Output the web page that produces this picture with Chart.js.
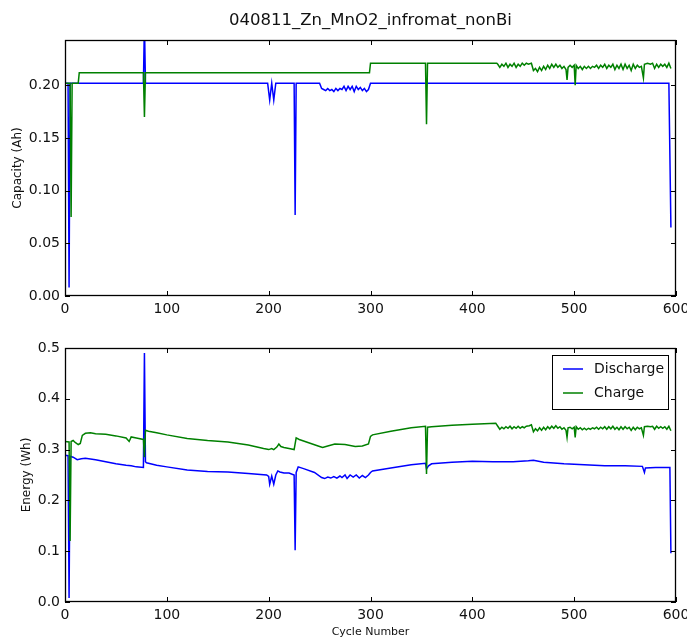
<!DOCTYPE html>
<html>
<head>
<meta charset="utf-8">
<script src="https://cdn.jsdelivr.net/npm/chart.js@4.4.1/dist/chart.umd.min.js"></script>
<style>
  html, body { margin: 0; padding: 0; background: #fff; }
  .panel { position: absolute; left: 0; width: 687px; }
</style>
</head>
<body>
<div class="panel" style="top:0;height:320px"><canvas id="capacityChart" width="687" height="320"></canvas></div>
<div class="panel" style="top:320px;height:319px"><canvas id="energyChart" width="687" height="319"></canvas></div>
<script>
const chartTitle = '040811_Zn_MnO2_infromat_nonBi';
const cycleTicks = [0, 100, 200, 300, 400, 500, 600];
const capacityTicks = [0, 0.05, 0.10, 0.15, 0.20];
const energyTicks = [0, 0.1, 0.2, 0.3, 0.4, 0.5];

// [cycle, Ah]
const dischargeCapacity = [
    [0, 0.202], [3, 0.202], [4, 0.008], [5, 0.202], [77, 0.202], [78, 0.26], [79, 0.202],
    [199, 0.202], [201, 0.186], [203, 0.202], [205, 0.186], [207, 0.202], [225, 0.202],
    [226, 0.077], [227, 0.202], [250, 0.202], [252, 0.197], [254, 0.196], [256, 0.195],
    [258, 0.197], [260, 0.195], [262, 0.196], [264, 0.194], [266, 0.197], [268, 0.195],
    [270, 0.197], [272, 0.196], [274, 0.199], [276, 0.195], [278, 0.199], [280, 0.196],
    [282, 0.199], [284, 0.194], [286, 0.199], [288, 0.196], [290, 0.198], [292, 0.195],
    [294, 0.197], [296, 0.194], [298, 0.196], [300, 0.202], [593, 0.202], [595, 0.065]
];

const chargeCapacity = [
    [0, 0.202], [5, 0.202], [6, 0.075], [7, 0.202], [13, 0.202], [14, 0.212], [77, 0.212],
    [78, 0.170], [79, 0.212], [299, 0.212], [300, 0.221], [354, 0.221], [355, 0.163],
    [356, 0.221], [424, 0.221], [425, 0.220], [427, 0.217], [429, 0.220], [431, 0.218],
    [433, 0.221], [435, 0.217], [437, 0.220], [439, 0.218], [441, 0.221], [443, 0.217],
    [445, 0.220], [447, 0.218], [449, 0.221], [451, 0.219], [453, 0.221], [455, 0.220],
    [458, 0.221], [460, 0.214], [462, 0.216], [464, 0.213], [466, 0.217], [468, 0.214],
    [470, 0.218], [472, 0.215], [474, 0.219], [476, 0.216], [478, 0.220], [480, 0.217],
    [482, 0.220], [484, 0.217], [486, 0.219], [488, 0.216], [490, 0.218], [492, 0.215],
    [493, 0.205], [494, 0.217], [496, 0.219], [498, 0.217], [500, 0.219], [501, 0.200],
    [502, 0.219], [504, 0.216], [506, 0.218], [508, 0.215], [510, 0.218], [512, 0.216],
    [514, 0.218], [516, 0.216], [518, 0.218], [520, 0.217], [522, 0.219], [524, 0.216],
    [526, 0.219], [528, 0.217], [530, 0.220], [532, 0.216], [534, 0.219], [536, 0.217],
    [538, 0.220], [540, 0.215], [542, 0.219], [544, 0.216], [546, 0.220], [548, 0.215],
    [550, 0.220], [552, 0.216], [554, 0.219], [556, 0.214], [558, 0.220], [560, 0.216],
    [562, 0.219], [564, 0.217], [566, 0.218], [568, 0.207], [569, 0.220], [572, 0.221],
    [575, 0.220], [577, 0.221], [579, 0.216], [581, 0.220], [583, 0.217], [585, 0.220],
    [587, 0.218], [589, 0.220], [591, 0.217], [593, 0.221], [595, 0.216]
];

// [cycle, Wh]
const dischargeEnergy = [
    [0, 0.289], [3, 0.288], [4, 0.008], [5, 0.287], [8, 0.285], [12, 0.280], [16, 0.282],
    [20, 0.283], [30, 0.280], [40, 0.276], [50, 0.272], [60, 0.269], [65, 0.268], [70, 0.266],
    [77, 0.265], [78, 0.49], [79, 0.276], [80, 0.274], [90, 0.269], [100, 0.266], [120, 0.260],
    [140, 0.257], [160, 0.256], [180, 0.253], [198, 0.250], [200, 0.247], [201, 0.232],
    [203, 0.248], [205, 0.232], [207, 0.250], [209, 0.258], [211, 0.256], [215, 0.254],
    [220, 0.254], [225, 0.250], [226, 0.102], [227, 0.255], [229, 0.266], [235, 0.262],
    [245, 0.255], [252, 0.245], [255, 0.243], [258, 0.246], [261, 0.244], [264, 0.247],
    [267, 0.244], [270, 0.248], [272, 0.245], [275, 0.250], [277, 0.243], [280, 0.250],
    [283, 0.246], [286, 0.250], [289, 0.244], [292, 0.249], [295, 0.245], [298, 0.250],
    [300, 0.255], [302, 0.258], [320, 0.264], [340, 0.270], [354, 0.273], [355, 0.262],
    [357, 0.268], [360, 0.272], [380, 0.275], [400, 0.277], [420, 0.276], [440, 0.276],
    [455, 0.278], [460, 0.279], [470, 0.275], [490, 0.272], [510, 0.270], [530, 0.268],
    [550, 0.268], [567, 0.267], [569, 0.255], [570, 0.264], [580, 0.265], [594, 0.265],
    [595, 0.096]
];

const chargeEnergy = [
    [0, 0.316], [4, 0.315], [5, 0.120], [6, 0.316], [8, 0.318], [10, 0.314], [13, 0.310],
    [15, 0.312], [17, 0.328], [20, 0.332], [25, 0.333], [30, 0.331], [40, 0.330], [50, 0.327],
    [60, 0.323], [63, 0.316], [65, 0.325], [70, 0.323], [77, 0.320], [78, 0.285], [79, 0.338],
    [82, 0.336], [90, 0.333], [100, 0.329], [120, 0.322], [140, 0.318], [160, 0.315],
    [180, 0.309], [195, 0.302], [200, 0.300], [203, 0.302], [205, 0.300], [208, 0.305],
    [210, 0.311], [212, 0.306], [215, 0.304], [220, 0.302], [225, 0.300], [227, 0.323],
    [230, 0.320], [240, 0.313], [250, 0.306], [253, 0.304], [258, 0.307], [265, 0.311],
    [275, 0.310], [285, 0.306], [292, 0.307], [298, 0.311], [300, 0.326], [302, 0.329],
    [320, 0.336], [340, 0.343], [354, 0.346], [355, 0.252], [356, 0.344], [360, 0.345],
    [380, 0.348], [400, 0.350], [423, 0.352], [425, 0.346], [427, 0.340], [429, 0.344],
    [431, 0.341], [433, 0.345], [435, 0.342], [437, 0.346], [439, 0.341], [441, 0.345],
    [443, 0.342], [445, 0.346], [447, 0.342], [449, 0.345], [451, 0.343], [453, 0.346],
    [456, 0.347], [458, 0.349], [460, 0.335], [462, 0.341], [464, 0.337], [466, 0.343],
    [468, 0.338], [470, 0.344], [472, 0.339], [474, 0.345], [476, 0.341], [478, 0.346],
    [480, 0.342], [482, 0.347], [484, 0.342], [486, 0.345], [488, 0.340], [490, 0.343],
    [492, 0.338], [493, 0.324], [494, 0.343], [496, 0.344], [498, 0.341], [500, 0.344],
    [501, 0.324], [502, 0.345], [504, 0.340], [506, 0.343], [508, 0.339], [510, 0.342],
    [512, 0.339], [514, 0.342], [516, 0.340], [518, 0.343], [520, 0.341], [522, 0.344],
    [524, 0.340], [526, 0.344], [528, 0.341], [530, 0.345], [532, 0.340], [534, 0.345],
    [536, 0.341], [538, 0.346], [540, 0.340], [542, 0.344], [544, 0.339], [546, 0.345],
    [548, 0.340], [550, 0.345], [552, 0.341], [554, 0.344], [556, 0.338], [558, 0.344],
    [560, 0.339], [562, 0.344], [564, 0.341], [566, 0.343], [568, 0.328], [569, 0.345],
    [572, 0.346], [575, 0.345], [577, 0.346], [579, 0.340], [581, 0.346], [583, 0.342],
    [585, 0.345], [587, 0.342], [589, 0.345], [591, 0.340], [593, 0.346], [595, 0.337]
];

const seriesLabels = ['Discharge', 'Charge'];
const seriesColors = ['#0000ff', '#008000'];

Chart.defaults.font.family = '"DejaVu Sans", sans-serif';
Chart.defaults.color = '#111';
Chart.defaults.animation = false;

const toPoints = rows => rows.map(r => ({ x: r[0], y: r[1] }));

// inward ticks on all four sides plus the box, like matplotlib classic
const framePlugin = {
    id: 'frame',
    afterDatasetsDraw(chart) {
        const { ctx, chartArea: a, scales } = chart;
        const len = 5;
        ctx.save();
        ctx.strokeStyle = '#000';
        ctx.lineWidth = 1;
        ctx.beginPath();
        scales.x.ticks.forEach(t => {
            const px = Math.round(scales.x.getPixelForValue(t.value)) + 0.5;
            ctx.moveTo(px, a.bottom); ctx.lineTo(px, a.bottom - len);
            ctx.moveTo(px, a.top); ctx.lineTo(px, a.top + len);
        });
        scales.y.ticks.forEach(t => {
            const py = Math.round(scales.y.getPixelForValue(t.value)) + 0.5;
            ctx.moveTo(a.left, py); ctx.lineTo(a.left + len, py);
            ctx.moveTo(a.right, py); ctx.lineTo(a.right - len, py);
        });
        ctx.stroke();
        ctx.lineWidth = 1.3;
        ctx.strokeRect(Math.round(a.left) + 0.5, Math.round(a.top) + 0.5,
            Math.round(a.width) - 1, Math.round(a.height) - 1);
        ctx.restore();
    }
};

// title centred over the axes, not over the whole canvas
const axesTitlePlugin = {
    id: 'axesTitle',
    afterDraw(chart) {
        const { ctx, chartArea: a } = chart;
        ctx.save();
        ctx.font = '16.5px "DejaVu Sans", sans-serif';
        ctx.fillStyle = '#111';
        ctx.textAlign = 'center';
        ctx.textBaseline = 'middle';
        ctx.fillText(chartTitle, (a.left + a.right) / 2, 21);
        ctx.restore();
    }
};

const boxLegendPlugin = {
    id: 'boxLegend',
    afterDraw(chart) {
        const { ctx, chartArea: a } = chart;
        const w = 116, h = 54;
        const x = a.right - 8 - w, y = a.top + 7;
        ctx.save();
        ctx.fillStyle = '#fff';
        ctx.fillRect(x, y, w, h);
        ctx.strokeStyle = '#000';
        ctx.lineWidth = 1;
        ctx.strokeRect(x + 0.5, y + 0.5, w, h);
        ctx.font = '14px "DejaVu Sans", sans-serif';
        ctx.textBaseline = 'middle';
        chart.data.datasets.forEach((ds, i) => {
            const cy = y + 14 + i * 24;
            ctx.strokeStyle = ds.borderColor;
            ctx.lineWidth = 1.5;
            ctx.beginPath();
            ctx.moveTo(x + 11, cy); ctx.lineTo(x + 31, cy);
            ctx.stroke();
            ctx.fillStyle = '#111';
            ctx.fillText(ds.label, x + 42, cy);
        });
        ctx.restore();
    }
};

function makeDatasets(discharge, charge) {
    return [discharge, charge].map((rows, i) => ({
        label: seriesLabels[i],
        data: toPoints(rows),
        borderColor: seriesColors[i],
        backgroundColor: seriesColors[i],
        borderWidth: 1.5,
        pointRadius: 0,
        tension: 0,
        order: 1 - i
    }));
}

function makeOptions(yTicks, yMax, yTitle, yTitlePad, xTitle, pad, xHeight) {
    return {
        responsive: false,
        layout: { padding: pad },
        plugins: {
            legend: { display: false },
            tooltip: { enabled: false }
        },
        scales: {
            x: {
                type: 'linear',
                min: 0,
                max: 600,
                grid: { display: false, drawTicks: false },
                border: { display: false },
                afterBuildTicks: s => { s.ticks = cycleTicks.map(v => ({ value: v })); },
                afterFit: s => { s.height = xHeight; s.paddingLeft = 0; s.paddingRight = 0; },
                ticks: { font: { size: 14 }, padding: 5, maxRotation: 0 },
                title: xTitle ? { display: true, text: xTitle, font: { size: 11 }, padding: { top: 0, bottom: 0 } } : { display: false }
            },
            y: {
                min: 0,
                max: yMax,
                grid: { display: false, drawTicks: false },
                border: { display: false },
                afterBuildTicks: s => { s.ticks = yTicks.map(v => ({ value: v })); },
                afterFit: s => { s.width = 65; s.paddingTop = 0; s.paddingBottom = 0; },
                ticks: {
                    font: { size: 14 },
                    padding: 5,
                    callback: v => yMax < 0.3 ? v.toFixed(2) : v.toFixed(1)
                },
                title: { display: true, text: yTitle, font: { size: 12 }, padding: { top: yTitlePad, bottom: 0 } }
            }
        }
    };
}

new Chart(document.getElementById('capacityChart'), {
    type: 'line',
    data: { datasets: makeDatasets(dischargeCapacity, chargeCapacity) },
    options: makeOptions(capacityTicks, 0.243, 'Capacity (Ah)', 11, null,
        { top: 40, right: 11, bottom: 0, left: 0 }, 24),
    plugins: [framePlugin, axesTitlePlugin]
});

new Chart(document.getElementById('energyChart'), {
    type: 'line',
    data: { datasets: makeDatasets(dischargeEnergy, chargeEnergy) },
    options: makeOptions(energyTicks, 0.5, 'Energy (Wh)', 20, 'Cycle Number',
        { top: 28, right: 11, bottom: 0, left: 0 }, 37),
    plugins: [framePlugin, boxLegendPlugin]
});
</script>
</body>
</html>
